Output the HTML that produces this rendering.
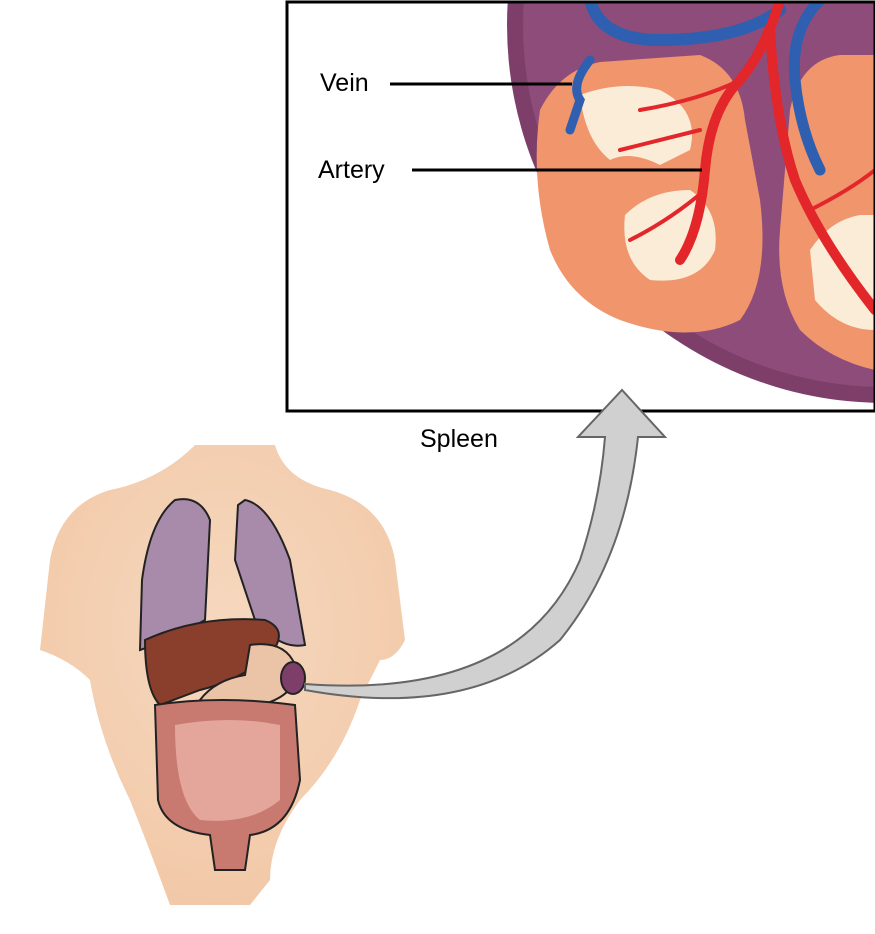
<!DOCTYPE html>
<html><head><style>
html,body{margin:0;padding:0;background:#fff;}
svg{display:block;}
text{font-family:"Liberation Sans",sans-serif;}
</style></head><body>
<svg width="875" height="934" viewBox="0 0 875 934" xmlns="http://www.w3.org/2000/svg">
<defs>
<clipPath id="box"><rect x="287" y="2" width="588" height="409"/></clipPath>
<radialGradient id="skin" cx="50%" cy="40%" r="60%"><stop offset="0" stop-color="#f6d8bf"/><stop offset="1" stop-color="#f2c9a8"/></radialGradient>
</defs>
<!-- box -->
<rect x="287" y="2" width="588" height="409" fill="#fff"/>
<g clip-path="url(#box)">
<circle cx="885" cy="25" r="378" fill="#7d3f6a"/>
<circle cx="885" cy="25" r="362" fill="#8e4c7a"/>
<!-- pulp lobes -->
<path d="M540 110 Q560 70 600 62 L700 55 Q740 70 745 120 L760 200 Q770 280 740 320 Q690 345 620 320 Q570 300 550 250 Q530 180 540 110Z" fill="#f0956c"/>
<path d="M790 110 Q800 60 840 55 L875 55 L875 370 Q830 360 800 330 Q775 290 780 230Z" fill="#f0956c"/>
<path d="M580 95 Q620 80 660 90 Q700 110 690 150 L660 165 Q630 150 610 160 Q585 140 580 95Z" fill="#fbecd8"/>
<path d="M625 215 Q650 190 690 190 Q720 210 715 250 Q700 285 650 280 Q620 260 625 215Z" fill="#fbecd8"/>
<path d="M810 250 Q830 220 860 215 L875 215 L875 330 Q840 330 815 300Z" fill="#fbecd8"/>
<!-- vessels -->
<g fill="none" stroke-linecap="round">
<path d="M590 0 Q600 40 660 40 Q740 40 780 10" stroke="#2e5fb0" stroke-width="12"/>
<path d="M590 60 Q570 85 580 100 L570 130" stroke="#2e5fb0" stroke-width="9"/>
<path d="M820 0 Q790 30 795 80 Q800 130 820 170" stroke="#2e5fb0" stroke-width="11"/>
<path d="M780 0 Q765 50 740 80 Q710 110 705 170 Q700 230 680 260" stroke="#e2262a" stroke-width="10"/>
<path d="M770 30 Q775 120 795 180 Q820 240 875 310" stroke="#e2262a" stroke-width="10"/>
<path d="M740 80 Q700 100 640 110 M700 130 Q660 140 620 150 M705 190 Q670 220 630 240 M810 210 Q850 190 875 170" stroke="#e2262a" stroke-width="4"/>
</g>
</g>
<rect x="287" y="2" width="588" height="409" fill="none" stroke="#000" stroke-width="3"/>
<text x="320" y="91" font-size="25">Vein</text>
<line x1="390" y1="84" x2="572" y2="84" stroke="#000" stroke-width="3"/>
<text x="318" y="178" font-size="25">Artery</text>
<line x1="412" y1="170" x2="702" y2="170" stroke="#000" stroke-width="3"/>
<text x="420" y="447" font-size="25">Spleen</text>
<!-- body -->
<path d="M195 445 L275 445 Q285 480 330 490 Q385 505 395 560 L405 640 Q395 660 380 660 L360 700 Q340 760 300 800 Q270 840 270 880 L250 905 L170 905 Q150 850 130 800 Q100 740 90 680 Q70 660 40 650 L50 560 Q60 505 110 490 Q160 480 195 445Z" fill="url(#skin)"/>
<!-- lungs -->
<path d="M175 500 Q150 520 142 580 L140 650 Q170 640 205 620 L210 520 Q200 495 175 500Z" fill="#a88aaa" stroke="#222" stroke-width="2"/>
<path d="M245 500 Q270 505 290 560 L305 645 Q280 650 255 620 L235 560 L238 505Z" fill="#a88aaa" stroke="#222" stroke-width="2"/>
<!-- liver -->
<path d="M145 640 Q200 615 265 620 Q290 630 270 655 Q240 680 200 690 L160 705 Q145 690 145 640Z" fill="#8a3e2c" stroke="#222" stroke-width="2"/>
<!-- stomach -->
<path d="M250 645 Q285 640 295 665 Q300 695 260 705 Q225 705 200 700 Q215 680 245 675 Z" fill="#ebc4a8" stroke="#222" stroke-width="2"/>
<!-- spleen -->
<ellipse cx="293" cy="678" rx="12" ry="16" fill="#7d3f6a" stroke="#222" stroke-width="2"/>
<!-- intestines -->
<path d="M155 705 Q220 695 295 705 L300 780 Q290 830 250 835 L245 870 L215 870 L210 835 Q165 830 158 800 Z" fill="#c87a70" stroke="#222" stroke-width="2"/>
<path d="M175 725 Q230 715 280 725 L280 800 Q250 825 200 820 Q175 800 175 725Z" fill="#e4a59a"/>
<!-- arrow -->
<path d="M305 684 Q520 700 580 560 Q600 500 605 437 L578 437 L622 390 L665 437 L638 437 Q625 560 560 640 Q470 720 305 690Z" fill="#d0d0d0" stroke="#666" stroke-width="2"/>
</svg>
</body></html>
